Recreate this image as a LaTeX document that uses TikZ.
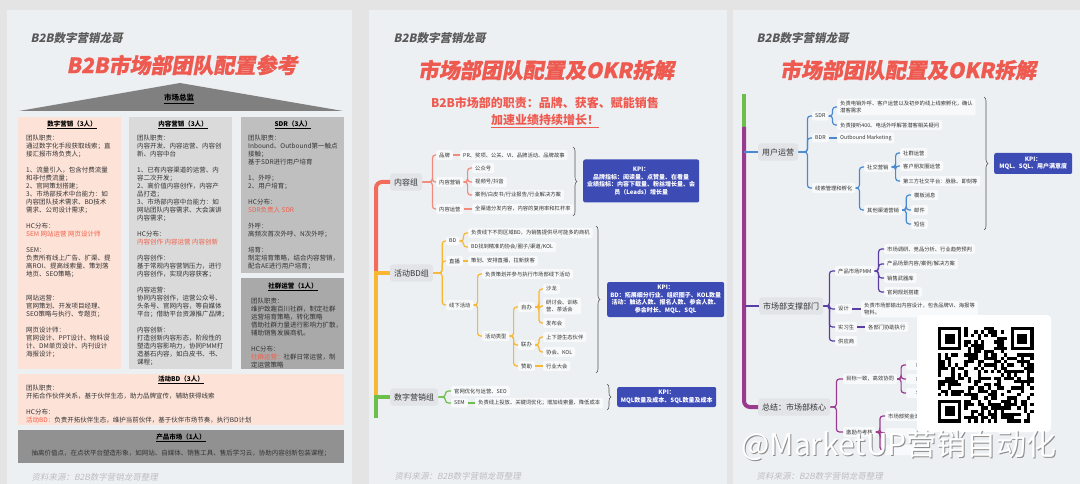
\documentclass[tikz,border=0pt]{standalone}
\usepackage{fontspec}
\setmainfont{Noto Sans CJK SC}
\newfontfamily\brandfont[FakeSlant=0.2]{Noto Sans CJK SC}
\newfontfamily\titlefont[FakeSlant=0.18,FakeBold=1]{Noto Sans CJK SC}
\usetikzlibrary{decorations.pathreplacing}
\usepackage{xcolor}
\definecolor{cPage}{HTML}{E4E4E4}
\definecolor{cSheet}{HTML}{EDF0F3}
\definecolor{cTitle}{HTML}{EE5A50}
\definecolor{cBrand}{HTML}{595959}
\definecolor{cSrc}{HTML}{BDBDBD}
\definecolor{cTxt}{HTML}{333333}
\definecolor{cRedT}{HTML}{F0604A}
\definecolor{cPeach}{HTML}{FDE2D7}
\definecolor{cColA}{HTML}{DADADA}
\definecolor{cColB}{HTML}{BFBFBF}
\definecolor{cColC}{HTML}{A9A9A9}
\definecolor{cProd}{HTML}{919191}
\definecolor{cTri}{HTML}{808080}
\definecolor{cHub}{HTML}{E2E4E7}
\definecolor{cLeaf}{HTML}{F8F9FA}
\definecolor{cKpi}{HTML}{3D4BB5}
\definecolor{cBrak}{HTML}{555555}
\definecolor{cRed}{HTML}{F26B5B}
\definecolor{cRedL}{HTML}{F08A7A}
\definecolor{cYel}{HTML}{F7B733}
\definecolor{cGrn}{HTML}{6DBE4B}
\definecolor{cBlu}{HTML}{4A89D0}
\definecolor{cInd}{HTML}{5A3EA3}
\definecolor{cPur}{HTML}{9A3A8E}
\newcommand{\hcred}[1]{\textcolor{cRedT}{#1}}
\tikzset{
  brand/.style={anchor=west, text=cBrand, font=\brandfont\bfseries\fontsize{11.5}{12}\selectfont},
  ttl/.style={text=cTitle, font=\titlefont\bfseries\fontsize{21}{24}\selectfont},
  src/.style={anchor=west, text=cSrc, font=\brandfont\fontsize{8.5}{9}\selectfont},
  colbox/.style={anchor=north west, inner sep=0pt},
  hdr/.style={text=black, font=\bfseries\fontsize{6.5}{8}\selectfont},
  body/.style={anchor=north west, inner sep=0pt, align=left, text=cTxt, font=\fontsize{6.5}{8}\selectfont},
  hub/.style={anchor=west, fill=cHub, rounded corners=3pt, text=cTxt, inner xsep=4pt, inner ysep=5pt, font=\fontsize{8}{9}\selectfont},
  leaf/.style={anchor=west, fill=cLeaf, rounded corners=2pt, text=cTxt, inner xsep=3pt, inner ysep=2.5pt, align=left, font=\fontsize{5.3}{7}\selectfont},
  kpi/.style={anchor=west, fill=cKpi, rounded corners=2pt, text=white, align=center, inner sep=3pt, font=\bfseries\fontsize{6}{7.5}\selectfont},
  bar/.style={line width=4pt},
  twig/.style={line width=1.2pt, rounded corners=3pt},
  brak/.style={draw=cBrak, line width=0.6pt, decorate, decoration={brace, amplitude=4pt}},
}
\begin{document}
\begin{tikzpicture}[x=1pt,y=-1pt]
\useasboundingbox (0,0) rectangle (1080,484);
\fill[cPage] (0,0) rectangle (1080,484);
\fill[cSheet] (7,10) rectangle (352,484);
\fill[cSheet] (369,10) rectangle (727,484);
\fill[cSheet] (733,10) rectangle (1080,484);

% sheet 1: team setup
\node[brand] (brA) at (27,38) {B2B数字营销龙哥};
\node[ttl] (ttlA) at (182,65) {B2B市场部团队配置参考};
\fill[cTri] (19,111) -- (180,83) -- (343,111) -- cycle;
\node[hdr, font=\bfseries\fontsize{7.5}{9}\selectfont] (boss) at (179,99) {\underline{市场总监}};

\node[colbox, fill=cPeach, minimum width=103pt, minimum height=252pt] (colA) at (18,117) {};
\node[colbox, fill=cColA, minimum width=103pt, minimum height=252pt] (colB) at (129,117) {};
\node[colbox, fill=cColB, minimum width=103pt, minimum height=156pt] (colC) at (241,117) {};
\node[colbox, fill=cColC, minimum width=103pt, minimum height=91pt] (colD) at (241,278) {};
\node[colbox, fill=cPeach, minimum width=326pt, minimum height=51pt] (colE) at (18,374) {};
\node[colbox, fill=cProd, minimum width=326pt, minimum height=33pt] (colF) at (18,430) {};

\node[hdr] (hA) at (72,125) {\underline{数字营销（3人）}};
\node[hdr] (hB) at (183,125) {\underline{内容营销（3人）}};
\node[hdr] (hC) at (293,125) {\underline{SDR（3人）}};
\node[hdr] (hD) at (293,287) {\underline{社群运营（1人）}};
\node[hdr] (hE) at (181,380) {\underline{活动BD（3人）}};
\node[hdr] (hF) at (181,438) {\underline{产品市场（1人）}};

\node[body] (tA) at (26,135) {团队职责：\\通过数字化手段获取线索；直\\接汇报市场负责人；\\[8pt]1、流量引入，包含付费流量\\和非付费流量；\\2、官网策划搭建；\\3、市场部技术中台能力：如\\内容团队技术需求、BD技术\\需求、公司设计需求；\\[8pt]HC分布：\\\hcred{SEM 网站运营 网页设计师}\\[8pt]SEM：\\负责所有线上广告、扩渠、提\\高ROI、提高线索量、策划落\\地页、SEO策略；\\[16pt]网站运营：\\官网策划、开发项目经理、\\SEO策略与执行、专题页；\\[8pt]网页设计师：\\官网设计、PPT设计、物料设\\计、DM单页设计、内刊设计\\海报设计；};
\node[body] (tB) at (137,135) {团队职责：\\内容开发、内容运营、内容创\\新、内容中台\\[8pt]1、已有内容渠道的运营、内\\容二次开发；\\2、高价值内容创作，内容产\\品打造；\\3、市场部内容中台能力：如\\网站团队内容需求、大会演讲\\内容需求；\\[8pt]HC分布：\\\hcred{内容创作 内容运营 内容创新}\\[8pt]内容创作：\\基于常规内容营销压力，进行\\内容创作，实现内容获客；\\[8pt]内容运营：\\协同内容创作，运营公众号、\\头条号、官网内容，等自媒体\\平台；借助平台资源推广品牌；\\[8pt]内容创新：\\打造创新内容形态，阶段性的\\塑造内容影响力，协同PMM打\\造基石内容，如白皮书、书、\\课程；};
\node[body] (tC) at (248,135) {团队职责：\\Inbound、Outbound第一触点\\接触；\\基于SDR进行用户培育\\[8pt]1、外呼；\\2、用户培育；\\[8pt]HC分布：\\\hcred{SDR负责人 SDR}\\[8pt]外呼：\\高频次首次外呼、N次外呼；\\[8pt]培育：\\制定培育策略，结合内容营销，\\配合AE进行用户培育；};
\node[body] (tD) at (251,298) {团队职责：\\维护致趣百川社群，制定社群\\运营培育策略，转化策略\\借助社群力量进行影响力扩散，\\辅助销售发展商机。\\[8pt]HC分布：\\\hcred{社群运营：}社群日常运营，制\\定运营策略};
\node[body] (tE) at (26,385) {团队职责：\\开拓合作伙伴关系，基于伙伴生态，助力品牌宣传，辅助获得线索\\[8pt]HC分布：\\\hcred{活动BD：}负责开拓伙伴生态，维护当前伙伴，基于伙伴市场节奏，执行BD计划};
\node[text=cTxt, font=\fontsize{6.5}{8}\selectfont] (tF) at (181,453) {抽离价值点，在点状平台塑造形象，如网站、自媒体、销售工具、售后学习云，协助内容创新包装课程；};
\node[src] (srcA) at (28,477) {资料来源：B2B数字营销龙哥整理};

% sheet 2: groups and OKR
\node[brand] (brB) at (390,38) {B2B数字营销龙哥};
\node[ttl] (ttlB) at (546,70) {市场部团队配置及OKR拆解};
\node[text=cTitle, font=\bfseries\fontsize{12}{14}\selectfont] (dutyA) at (545,103) {B2B市场部的职责：品牌、获客、赋能销售};
\node[text=cTitle, font=\bfseries\fontsize{12}{14}\selectfont] (dutyB) at (545,121) {\underline{加速业绩持续增长！}};

\node[hub] (nRong) at (390,182) {内容组};
\node[hub] (nHuo) at (390,273) {活动BD组};
\node[hub] (nShu) at (390,397) {数字营销组};
\draw[bar, cRed, rounded corners=6pt] (nRong.west) -| ([xshift=-14pt]nHuo.west);
\draw[bar, cYel] (nHuo.west) -- ++(-14,0) -- ([xshift=-14pt]nShu.west);
\draw[bar, cGrn] (nShu.west) -- ++(-14,0) -- ++(0,21);

\node[leaf] (cPin) at (436,155) {品牌};
\node[leaf] (cPinT) at (460,155) {PR、奖项、公关、VI、品牌活动、品牌故事};
\node[leaf] (cYx) at (436,182) {内容营销};
\node[leaf] (cYx1) at (472,168) {公众号};
\node[leaf] (cYx2) at (472,182) {视频号/抖音};
\node[leaf] (cYx3) at (472,195) {案例/白皮书/行业报告/行业解决方案};
\node[leaf] (cYy) at (436,209) {内容运营};
\node[leaf] (cYyT) at (472,209) {全渠道分发内容，内容的复用率和杠杆率};
\foreach \c in {cPin,cYx,cYy} \draw[twig, cRedL] (nRong.east) -- ++(10,0) |- (\c.west);
\foreach \c in {cYx1,cYx2,cYx3} \draw[twig, cRedL] (cYx.east) -- ++(4,0) |- (\c.west);
\draw[twig, cRedL] (cPin.east) -- (cPinT.west);
\draw[twig, cRedL] (cYy.east) -- (cYyT.west);

\node[leaf] (bBd) at (446,241) {BD};
\node[leaf] (bBd1) at (468,233) {负责线下不同区域BD，为销售提供尽可能多的商机};
\node[leaf] (bBd2) at (468,247) {BD找到精准的协会/圈子/渠道/KOL};
\node[leaf] (bZb) at (446,261) {直播};
\node[leaf] (bZb1) at (468,261) {策划、安排直播，拉新获客};
\node[leaf] (bXx) at (446,305) {线下活动};
\node[leaf] (bXx1) at (482,274) {负责策划并参与执行市场部线下活动};
\node[leaf] (bLx) at (482,336) {活动类型};
\node[leaf] (bZi) at (518,307) {自办};
\node[leaf] (bZi1) at (543,289) {沙龙};
\node[leaf] (bZi2) at (543,306) {研讨会、训练\\营、茶话会};
\node[leaf] (bZi3) at (543,323) {发布会};
\node[leaf] (bLb) at (518,345) {联办};
\node[leaf] (bLb1) at (543,337) {上下游生态伙伴};
\node[leaf] (bLb2) at (543,352) {协会、KOL};
\node[leaf] (bZz) at (518,366) {赞助};
\node[leaf] (bZz1) at (543,366) {行业大会};
\foreach \c in {bBd,bZb,bXx} \draw[twig, cYel] (nHuo.east) -- ++(9,0) |- (\c.west);
\foreach \c in {bBd1,bBd2} \draw[twig, cYel] (bBd.east) -- ++(4,0) |- (\c.west);
\draw[twig, cYel] (bZb.east) -- (bZb1.west);
\foreach \c in {bXx1,bLx} \draw[twig, cYel] (bXx.east) -- ++(4,0) |- (\c.west);
\foreach \c in {bZi,bLb,bZz} \draw[twig, cYel] (bLx.east) -- ++(4,0) |- (\c.west);
\foreach \c in {bZi1,bZi2,bZi3} \draw[twig, cYel] (bZi.east) -- ++(4,0) |- (\c.west);
\foreach \c in {bLb1,bLb2} \draw[twig, cYel] (bLb.east) -- ++(4,0) |- (\c.west);
\draw[twig, cYel] (bZz.east) -- (bZz1.west);

\node[leaf] (dGw) at (451,391) {官网优化与运营、SEO};
\node[leaf] (dSem) at (451,403) {SEM};
\node[leaf] (dSem1) at (475,403) {负责线上投放、关键词优化；增加线索量、降低成本};
\foreach \c in {dGw,dSem} \draw[twig, cGrn] (nShu.east) -- ++(7,0) |- (\c.west);
\draw[twig, cGrn] (dSem.east) -- (dSem1.west);

\draw[brak] (573,147) -- (573,216);
\draw[brak] (596,226) -- (596,373);
\draw[brak] (607,384) -- (607,410);
\node[kpi, minimum width=116pt, minimum height=43pt] (kRong) at (583,181) {KPI：\\品牌指标：阅读量、点赞量、在看量\\业绩指标：内容下载量、粉丝增长量、会\\员（Leads）增长量};
\node[kpi, minimum width=117pt, minimum height=35pt] (kHuo) at (607,299.5) {KPI：\\BD：拓展细分行业、组织圈子、KOL数量\\活动：触达人数、报名人数、参会人数、\\参会时长、MQL、SQL};
\node[kpi, minimum width=99pt, minimum height=20pt] (kShu) at (617,397) {KPI：\\MQL数量及成本、SQL数量及成本};
\node[src] (srcB) at (391,476) {资料来源：B2B数字营销龙哥整理};

% sheet 3: user ops and support
\node[brand] (brC) at (753,38) {B2B数字营销龙哥};
\node[ttl] (ttlC) at (908,70) {市场部团队配置及OKR拆解};

\node[hub] (zYy) at (758,152) {用户运营};
\node[hub] (zZc) at (759,306) {市场部支撑部门};
\node[hub] (zZj) at (758,407) {总结：市场部核心};
\coordinate (rTop) at (744,94);
\coordinate (rMid) at (744,127);
\draw[bar, cGrn] (rTop) -- (rMid);
\draw[bar, cPur, rounded corners=6pt] (rMid) |- (zZj.west);
\draw[line width=2pt, cBlu] (zYy.west) -- ++(-14,0);
\draw[line width=2pt, cInd] (zZc.west) -- ++(-14,0);

\node[leaf] (uSdr) at (812,116) {SDR};
\node[leaf] (uSdr1) at (837,107) {负责电销外呼、客户运营以及初步的线上线索孵化，确认\\潜客需求};
\node[leaf] (uSdr2) at (837,125) {负责接听400、电话外呼解答潜客相关疑问};
\node[leaf] (uBdr) at (812,138) {BDR};
\node[leaf] (uBdr1) at (837,138) {Outbound Marketing};
\node[leaf] (uXs) at (812,188) {线索管理和孵化};
\node[leaf] (uSj) at (864,167) {社交营销};
\node[leaf] (uSj1) at (900,153) {社群运营};
\node[leaf] (uSj2) at (900,166) {客户朋友圈运营};
\node[leaf] (uSj3) at (900,181) {第三方社交平台：脉脉、即刻等};
\node[leaf] (uQt) at (864,210) {其他渠道营销};
\node[leaf] (uQt1) at (911,195) {模板消息};
\node[leaf] (uQt2) at (911,210) {邮件};
\node[leaf] (uQt3) at (911,224) {短信};
\foreach \c in {uSdr,uBdr,uXs} \draw[twig, cBlu] (zYy.east) -- ++(9,0) |- (\c.west);
\foreach \c in {uSdr1,uSdr2} \draw[twig, cBlu] (uSdr.east) -- ++(4,0) |- (\c.west);
\draw[twig, cBlu] (uBdr.east) -- (uBdr1.west);
\foreach \c in {uSj,uQt} \draw[twig, cBlu] (uXs.east) -- ++(4,0) |- (\c.west);
\foreach \c in {uSj1,uSj2,uSj3} \draw[twig, cBlu] (uSj.east) -- ++(4,0) |- (\c.west);
\foreach \c in {uQt1,uQt2,uQt3} \draw[twig, cBlu] (uQt.east) -- ++(4,0) |- (\c.west);
\draw[brak] (984,97) -- (984,230);
\node[kpi, minimum width=78pt, minimum height=21pt] (kYy) at (994,163.5) {KPI：\\MQL、SQL、用户满意度};

\node[leaf] (sPmm) at (835,271) {产品市场PMM};
\node[leaf] (sPmm1) at (884,249) {市场调研、竞品分析、行业趋势预判};
\node[leaf] (sPmm2) at (884,264) {产品场景内容/案例/解决方案};
\node[leaf] (sPmm3) at (884,278) {销售武器库};
\node[leaf] (sPmm4) at (884,292) {官网规划搭建};
\node[leaf] (sSj) at (835,309) {设计};
\node[leaf] (sSj1) at (861,309) {负责市场部输出内容设计，包含品牌VI、海报等\\物料。};
\node[leaf] (sSx) at (835,327) {实习生};
\node[leaf] (sSx1) at (865,327) {各部门协助执行};
\node[leaf] (sGy) at (835,341) {供应商};
\foreach \c in {sPmm,sSj,sSx,sGy} \draw[twig, cInd] (zZc.east) -- ++(6,0) |- (\c.west);
\foreach \c in {sPmm1,sPmm2,sPmm3,sPmm4} \draw[twig, cInd] (sPmm.east) -- ++(4,0) |- (\c.west);
\draw[twig, cInd] (sSj.east) -- (sSj1.west);
\draw[twig, cInd] (sSx.east) -- (sSx1.west);

\node[leaf] (tMb) at (843,379) {目标一致，高效协同};
\node[leaf, minimum width=30pt] (tMb1) at (906,365) {市场};
\node[leaf, minimum width=30pt] (tMb2) at (906,379) {市场};
\node[leaf, minimum width=30pt] (tMb3) at (906,393) {公司};
\node[leaf] (tJl) at (843,432) {激励与考核};
\node[leaf] (tJl1) at (885,416) {市场部奖金池};
\node[leaf, minimum width=30pt, minimum height=10pt] (tJl2) at (885,433) {};
\node[leaf, minimum width=30pt, minimum height=10pt] (tJl3) at (885,450) {};
\foreach \c in {tMb,tJl} \draw[twig, cPur] (zZj.east) -- ++(6,0) |- (\c.west);
\foreach \c in {tMb1,tMb2,tMb3} \draw[twig, cPur] (tMb.east) -- ++(4,0) |- (\c.west);
\foreach \c in {tJl1,tJl2,tJl3} \draw[twig, cPur] (tJl.east) -- ++(4,0) |- (\c.west);
\node[src] (srcC) at (753,476) {资料来源：B2B数字营销龙哥整理};

% qr card
\fill[white, rounded corners=4pt] (917,315) rectangle (1051,432);
\pgfmathsetseed{4242}
\foreach \i in {0,...,28}{
  \foreach \j in {0,...,28}{
    \pgfmathtruncatemacro\qb{rnd<0.5?1:0}
    \ifnum\qb=1 \fill[black] (938+\i*3.3,327+\j*3.3) rectangle ++(3.3,3.3);\fi
  }
}
\foreach \fx/\fy/\wx/\wy in {938/327/938/327, 1010.6/327/1007.3/327, 938/399.6/938/396.3}{
  \fill[white] (\wx,\wy) rectangle ++(26.4,26.4);
  \fill[black] (\fx,\fy) rectangle ++(23.1,23.1);
  \fill[white] (\fx+3.3,\fy+3.3) rectangle ++(16.5,16.5);
  \fill[black] (\fx+6.6,\fy+6.6) rectangle ++(9.9,9.9);
}

% watermark
\node[text=black!45, font=\fontsize{30}{32}\selectfont] (wmS) at (900,446.5) {@MarketUP营销自动化};
\node[text=white, font=\fontsize{30}{32}\selectfont] (wm) at (899,445) {@MarketUP营销自动化};
\end{tikzpicture}
\end{document}
